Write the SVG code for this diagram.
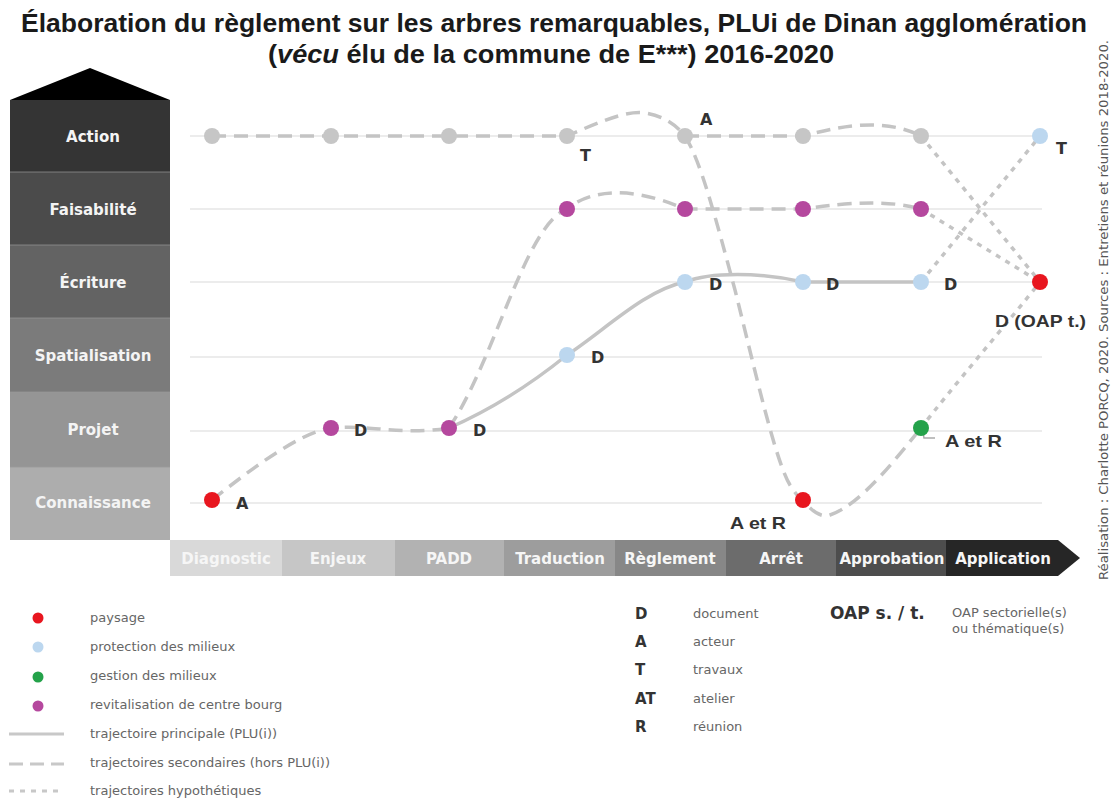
<svg xmlns="http://www.w3.org/2000/svg" width="1115" height="803" viewBox="0 0 1115 803">
<style>
.title{font-family:"Liberation Sans",Arial,sans-serif;font-weight:bold;font-size:25px;fill:#1a1a1a}
.rowlab{font-family:"DejaVu Sans",sans-serif;font-weight:bold;font-size:15px;fill:#f4f4f4;text-anchor:middle}
.axlab{font-family:"DejaVu Sans",sans-serif;font-weight:bold;font-size:15px;fill:#f6f6f6;text-anchor:middle}
.grid{stroke:#e6e6e6;stroke-width:1.5}
.traj{fill:none;stroke:#c4c4c4;stroke-width:3.5}
.dash{stroke-dasharray:14 8}
.dot{stroke-dasharray:5 6;stroke-width:3.5}
.lab{font-family:"DejaVu Sans",sans-serif;font-weight:bold;font-size:16px;fill:#333}
.lab2{font-family:"Liberation Sans",Arial,sans-serif;font-weight:bold;font-size:17px;fill:#333}
.leg{font-family:"DejaVu Sans",sans-serif;font-size:13px;fill:#666}
.legk{font-family:"DejaVu Sans",sans-serif;font-weight:bold;font-size:15px;fill:#333}
.red{fill:#e8161f}.blue{fill:#bcd7ef}.green{fill:#24a24a}.mag{fill:#b5489e}.gray{fill:#c6c6c6}
</style>

<g id="title">
<text class="title" x="554" y="32" text-anchor="middle" textLength="1066" lengthAdjust="spacingAndGlyphs">Élaboration du règlement sur les arbres remarquables, PLUi de Dinan agglomération</text>
<text class="title" x="551" y="63" text-anchor="middle" textLength="566" lengthAdjust="spacingAndGlyphs">(<tspan font-style="italic">vécu</tspan> élu de la commune de E***) 2016-2020</text>
</g>

<g id="credits">
<text class="leg" transform="translate(1108,580) rotate(-90)" x="0" y="0" textLength="540" lengthAdjust="spacingAndGlyphs" style="fill:#555;font-size:12px">Réalisation : Charlotte PORCQ, 2020. Sources : Entretiens et réunions 2018-2020.</text>
</g>

<g id="levels">
<polygon points="10,100 90,68 170,100" fill="#000"/>
<rect x="10" y="100" width="160" height="72" fill="#343434"/>
<rect x="10" y="172" width="160" height="73" fill="#4b4b4b"/>
<rect x="10" y="245" width="160" height="73" fill="#636363"/>
<rect x="10" y="318" width="160" height="74" fill="#7b7b7b"/>
<rect x="10" y="392" width="160" height="75" fill="#959595"/>
<rect x="10" y="467" width="160" height="73" fill="#adadad"/>
<g stroke="#9a9a9a" stroke-width="1" opacity="0.7">
<line x1="10" y1="172" x2="170" y2="172"/><line x1="10" y1="245" x2="170" y2="245"/><line x1="10" y1="318" x2="170" y2="318"/><line x1="10" y1="392" x2="170" y2="392"/><line x1="10" y1="467" x2="170" y2="467"/>
</g>
<text class="rowlab" x="93" y="142">Action</text>
<text class="rowlab" x="93" y="215">Faisabilité</text>
<text class="rowlab" x="93" y="288">Écriture</text>
<text class="rowlab" x="93" y="361">Spatialisation</text>
<text class="rowlab" x="93" y="435">Projet</text>
<text class="rowlab" x="93" y="508">Connaissance</text>
</g>

<g id="grid">
<line class="grid" x1="190" y1="136" x2="1042" y2="136"/>
<line class="grid" x1="190" y1="209" x2="1042" y2="209"/>
<line class="grid" x1="190" y1="282" x2="1042" y2="282"/>
<line class="grid" x1="190" y1="357" x2="1042" y2="357"/>
<line class="grid" x1="190" y1="431" x2="1042" y2="431"/>
<line class="grid" x1="190" y1="503" x2="1042" y2="503"/>
</g>

<g id="phases">
<rect x="170" y="540" width="112" height="36" fill="#d9d9d9"/>
<rect x="282" y="540" width="113" height="36" fill="#c6c6c6"/>
<rect x="395" y="540" width="109" height="36" fill="#b2b2b2"/>
<rect x="504" y="540" width="111" height="36" fill="#9d9d9d"/>
<rect x="615" y="540" width="111" height="36" fill="#878787"/>
<rect x="726" y="540" width="110" height="36" fill="#6c6c6c"/>
<rect x="836" y="540" width="110" height="36" fill="#4d4d4d"/>
<polygon points="946,540 1058,540 1080,558 1058,576 946,576" fill="#262626"/>
<text class="axlab" x="226" y="564">Diagnostic</text>
<text class="axlab" x="338" y="564">Enjeux</text>
<text class="axlab" x="449" y="564">PADD</text>
<text class="axlab" x="560" y="564">Traduction</text>
<text class="axlab" x="670" y="564">Règlement</text>
<text class="axlab" x="781" y="564">Arrêt</text>
<text class="axlab" x="892" y="564">Approbation</text>
<text class="axlab" x="1003" y="564">Application</text>
</g>

<g id="connectors">
<path class="traj dash" d="M212,500 C250,470 300,432 331,428 C370,424 400,436 449,428"/>
<path class="traj dash" d="M449,428 C495,360 525,225 567,209 C590,190 630,185 685,209 L803,209 C850,202 890,200 921,209"/>
<path class="traj" d="M449,428 C490,410 530,385 567,355 C605,330 645,290 685,282 C710,272 760,272 803,282 L921,282"/>
<path class="traj dash" d="M212,136 L567,136 C595,124 625,110 645,113 C665,116 678,126 686,138 C700,160 715,215 735,290 C755,370 775,460 790,485 C797,496 800,499 803,500 C812,512 822,518 830,515 C860,505 895,460 921,428"/>
<path class="traj dash" d="M685,136 L803,136 C845,125 885,118 921,136"/>
<path class="traj dot" d="M921,428 C950,390 1010,320 1040,282"/>
<path class="traj dot" d="M921,136 L1040,282"/>
<path class="traj dot" d="M921,282 L1040,136"/>
<path class="traj dot" d="M921,209 L1040,282"/>
<path d="M923,433 L924,438 L935,438" fill="none" stroke="#aaa" stroke-width="1.5"/>
</g>

<g id="n-connaissance-diag"><circle class="red" cx="212" cy="500" r="8"/><text class="lab" x="236" y="509">A</text></g>
<g id="n-projet-enjeux"><circle class="mag" cx="331" cy="428" r="8"/><text class="lab" x="354" y="436">D</text></g>
<g id="n-projet-padd"><circle class="mag" cx="449" cy="428" r="8"/><text class="lab" x="473" y="436">D</text></g>
<g id="n-spat-trad"><circle class="blue" cx="567" cy="355" r="8"/><text class="lab" x="591" y="363">D</text></g>
<g id="n-action-diag"><circle class="gray" cx="212" cy="136" r="8"/></g>
<g id="n-action-enjeux"><circle class="gray" cx="331" cy="136" r="8"/></g>
<g id="n-action-padd"><circle class="gray" cx="449" cy="136" r="8"/></g>
<g id="n-action-trad"><circle class="gray" cx="567" cy="136" r="8"/><text class="lab" x="580" y="161">T</text></g>
<g id="n-action-regl"><circle class="gray" cx="685" cy="136" r="8"/><text class="lab" x="700" y="125">A</text></g>
<g id="n-action-arret"><circle class="gray" cx="803" cy="136" r="8"/></g>
<g id="n-action-appro"><circle class="gray" cx="921" cy="136" r="8"/></g>
<g id="n-action-appli"><circle class="blue" cx="1040" cy="136" r="8"/><text class="lab" x="1056" y="154">T</text></g>
<g id="n-fais-trad"><circle class="mag" cx="567" cy="209" r="8"/></g>
<g id="n-fais-regl"><circle class="mag" cx="685" cy="209" r="8"/></g>
<g id="n-fais-arret"><circle class="mag" cx="803" cy="209" r="8"/></g>
<g id="n-fais-appro"><circle class="mag" cx="921" cy="209" r="8"/></g>
<g id="n-ecr-regl"><circle class="blue" cx="685" cy="282" r="8"/><text class="lab" x="709" y="290">D</text></g>
<g id="n-ecr-arret"><circle class="blue" cx="803" cy="282" r="8"/><text class="lab" x="826" y="290">D</text></g>
<g id="n-ecr-appro"><circle class="blue" cx="921" cy="282" r="8"/><text class="lab" x="944" y="290">D</text></g>
<g id="n-ecr-appli"><circle class="red" cx="1040" cy="282" r="8"/><text class="lab2" x="995" y="327" textLength="91" lengthAdjust="spacingAndGlyphs">D (OAP t.)</text></g>
<g id="n-projet-appro"><circle class="green" cx="921" cy="428" r="8"/><text class="lab2" x="945" y="447" textLength="57" lengthAdjust="spacingAndGlyphs">A et R</text></g>
<g id="n-conn-arret"><circle class="red" cx="803" cy="500" r="8"/><text class="lab2" x="730" y="529" textLength="56" lengthAdjust="spacingAndGlyphs">A et R</text></g>

<g id="legend-colors">
<circle class="red" cx="38" cy="618" r="5.5"/><text class="leg" x="90" y="622">paysage</text>
<circle class="blue" cx="38" cy="647" r="5.5"/><text class="leg" x="90" y="651">protection des milieux</text>
<circle class="green" cx="38" cy="677" r="5.5"/><text class="leg" x="90" y="680">gestion des milieux</text>
<circle class="mag" cx="38" cy="706" r="5.5"/><text class="leg" x="90" y="709">revitalisation de centre bourg</text>
<line x1="9" y1="734" x2="64" y2="734" stroke="#c8c8c8" stroke-width="3"/><text class="leg" x="90" y="738">trajectoire principale (PLU(i))</text>
<line x1="9" y1="764" x2="64" y2="764" stroke="#c8c8c8" stroke-width="3" stroke-dasharray="14 7"/><text class="leg" x="90" y="767">trajectoires secondaires (hors PLU(i))</text>
<line x1="9" y1="791" x2="64" y2="791" stroke="#c8c8c8" stroke-width="3" stroke-dasharray="5 6"/><text class="leg" x="90" y="795">trajectoires hypothétiques</text>
</g>

<g id="legend-codes">
<text class="legk" x="635" y="619">D</text><text class="leg" x="693" y="618">document</text>
<text class="legk" x="635" y="647">A</text><text class="leg" x="693" y="646">acteur</text>
<text class="legk" x="635" y="675">T</text><text class="leg" x="693" y="674">travaux</text>
<text class="legk" x="635" y="704">AT</text><text class="leg" x="693" y="703">atelier</text>
<text class="legk" x="635" y="732">R</text><text class="leg" x="693" y="731">réunion</text>
<text class="legk" x="830" y="619" style="font-size:17px">OAP s. / t.</text>
<text class="leg" x="952" y="617">OAP sectorielle(s)</text>
<text class="leg" x="952" y="633">ou thématique(s)</text>
</g>
</svg>
